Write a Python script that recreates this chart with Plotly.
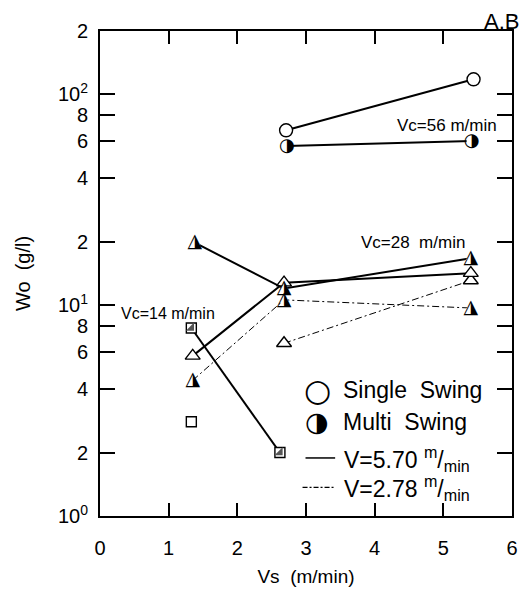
import plotly.graph_objects as go

# ---- data ----
vs_56_single = [2.71, 5.44]
wo_56_single = [67.6, 118.0]
vs_56_multi = [2.72, 5.41]
wo_56_multi = [56.9, 60.1]

vs_28_single_v570 = [1.35, 2.68, 5.40]
wo_28_single_v570 = [5.75, 12.8, 14.2]
vs_28_multi_v570 = [1.38, 2.68, 5.40]
wo_28_multi_v570 = [19.8, 12.0, 16.7]
vs_28_single_v278 = [2.68, 5.40]
wo_28_single_v278 = [6.6, 13.1]
vs_28_multi_v278 = [1.35, 2.68, 5.40]
wo_28_multi_v278 = [4.4, 10.6, 9.7]

vs_14_multi = [1.33, 2.62]
wo_14_multi = [7.8, 2.0]
vs_14_single = [1.33]
wo_14_single = [2.8]

x_ticks = [0, 1, 2, 3, 4, 5, 6]
y_tickvals = [1, 2, 4, 6, 8, 10, 20, 40, 60, 80, 100, 200]
y_ticktext = ["10<sup>0</sup>", "2", "4", "6", "8", "10<sup>1</sup>",
              "2", "4", "6", "8", "10<sup>2</sup>", "2"]

FONT = "Liberation Sans"
GLYPH_FONT = "DejaVu Sans"

fig = go.Figure()

# symbol, marker size, half-filled glyph, glyph size
SYM = {"circle": ("circle", 13, "\u25D1", 18),
       "triangle": ("triangle-up", 13, "\u25EE", 19),
       "square": ("square", 10, None, None)}


def add_series(x, y, shape, multi, dash="solid", width=2.0):
    if len(x) > 1:
        fig.add_trace(go.Scatter(x=x, y=y, mode="lines",
                                 line=dict(color="black", width=width, dash=dash),
                                 showlegend=False, hoverinfo="skip"))
    sym, size, glyph, gsize = SYM[shape]
    if not multi or shape == "square":
        fig.add_trace(go.Scatter(x=x, y=y, mode="markers",
                                 marker=dict(symbol=sym, size=size, color="white",
                                             line=dict(color="black", width=1.4)),
                                 showlegend=False, hoverinfo="skip"))
        if multi:
            fig.add_trace(go.Scatter(x=x, y=y, mode="markers",
                                     marker=dict(symbol="triangle-se", size=size - 1,
                                                 color="#555555", line=dict(width=0)),
                                     showlegend=False, hoverinfo="skip"))
    else:
        fig.add_trace(go.Scatter(x=x, y=y, mode="markers",
                                 marker=dict(symbol=sym, size=size - 3, color="white",
                                             line=dict(width=0)),
                                 showlegend=False, hoverinfo="skip"))
        fig.add_trace(go.Scatter(x=x, y=y, mode="text", text=[glyph] * len(x),
                                 textposition="middle center",
                                 textfont=dict(family=GLYPH_FONT, size=gsize, color="black"),
                                 showlegend=False, hoverinfo="skip"))


DASHDOT = "7px,3px,2px,3px"

add_series(vs_56_single, wo_56_single, "circle", False)
add_series(vs_56_multi, wo_56_multi, "circle", True)
add_series(vs_28_single_v278, wo_28_single_v278, "triangle", False, DASHDOT, 1.0)
add_series(vs_28_multi_v278, wo_28_multi_v278, "triangle", True, DASHDOT, 1.0)
add_series(vs_28_single_v570, wo_28_single_v570, "triangle", False)
add_series(vs_28_multi_v570, wo_28_multi_v570, "triangle", True)
add_series(vs_14_multi, wo_14_multi, "square", True)
add_series(vs_14_single, wo_14_single, "square", False)

# ---- layout geometry (page pixels; the page body has an 8px margin) ----
OFF = 8
W, H = 522, 589
L, R, T, B = 92, 13, 15, 81
pw, ph = W - L - R, H - T - B


def px(xp):
    return (xp - OFF - L) / pw


def py(yp):
    return (H - B - (yp - OFF)) / ph


anns = []


def txt(x, y, s, size=14, xanchor="center", font=FONT):
    anns.append(dict(x=px(x), y=py(y), xref="paper", yref="paper", text=s,
                     showarrow=False, xanchor=xanchor, yanchor="middle",
                     font=dict(family=font, size=size, color="black")))


txt(451, 119, "Vc=56 m/min", 17)
txt(417, 238, "Vc=28  m/min", 17)
txt(169, 310, "Vc=14 m/min", 16)
txt(506, 13, "A.B", 22)

# legend
txt(320, 388, "\u25CB", 31, font=GLYPH_FONT)
txt(320, 420, "\u25D1", 27, font=GLYPH_FONT)
txt(344, 388, "Single  Swing", 23, "left")
txt(344, 420, "Multi  Swing", 23, "left")
txt(345, 458, "V=5.70 <sup>m</sup>/<sub>min</sub>", 23, "left")
txt(345, 488, "V=2.78 <sup>m</sup>/<sub>min</sub>", 23, "left")

shapes = [
    dict(type="line", xref="paper", yref="paper", x0=px(308), x1=px(338),
         y0=py(457), y1=py(457), line=dict(color="black", width=1.5)),
    dict(type="line", xref="paper", yref="paper", x0=px(305), x1=px(338),
         y0=py(487), y1=py(487), line=dict(color="black", width=1.2, dash="5px,2px,2px,2px")),
]

fig.update_layout(
    width=W, height=H,
    margin=dict(l=L, r=R, t=T, b=B),
    paper_bgcolor="white", plot_bgcolor="white",
    font=dict(family=FONT, size=18, color="black"),
    showlegend=False,
    annotations=anns, shapes=shapes,
    xaxis=dict(range=[0, 6], tickvals=x_ticks, ticks="inside", ticklen=13,
               tickwidth=1.5, tickcolor="black", showline=True, linecolor="black",
               linewidth=2, mirror="ticks", showgrid=False, zeroline=False,
               tickfont=dict(size=20), ticklabelstandoff=13,
               title=dict(text="Vs  (m/min)", font=dict(size=19), standoff=12)),
    yaxis=dict(type="log", range=[0, 2.30103], tickvals=y_tickvals, ticktext=y_ticktext,
               ticks="inside", ticklen=15, tickwidth=1.5, tickcolor="black",
               showline=True, linecolor="black", linewidth=2, mirror="ticks",
               showgrid=False, zeroline=False, tickfont=dict(size=20),
               ticklabelstandoff=6,
               title=dict(text="Wo  (g/l)", font=dict(size=20), standoff=22)),
)

fig.write_html("out.html")
